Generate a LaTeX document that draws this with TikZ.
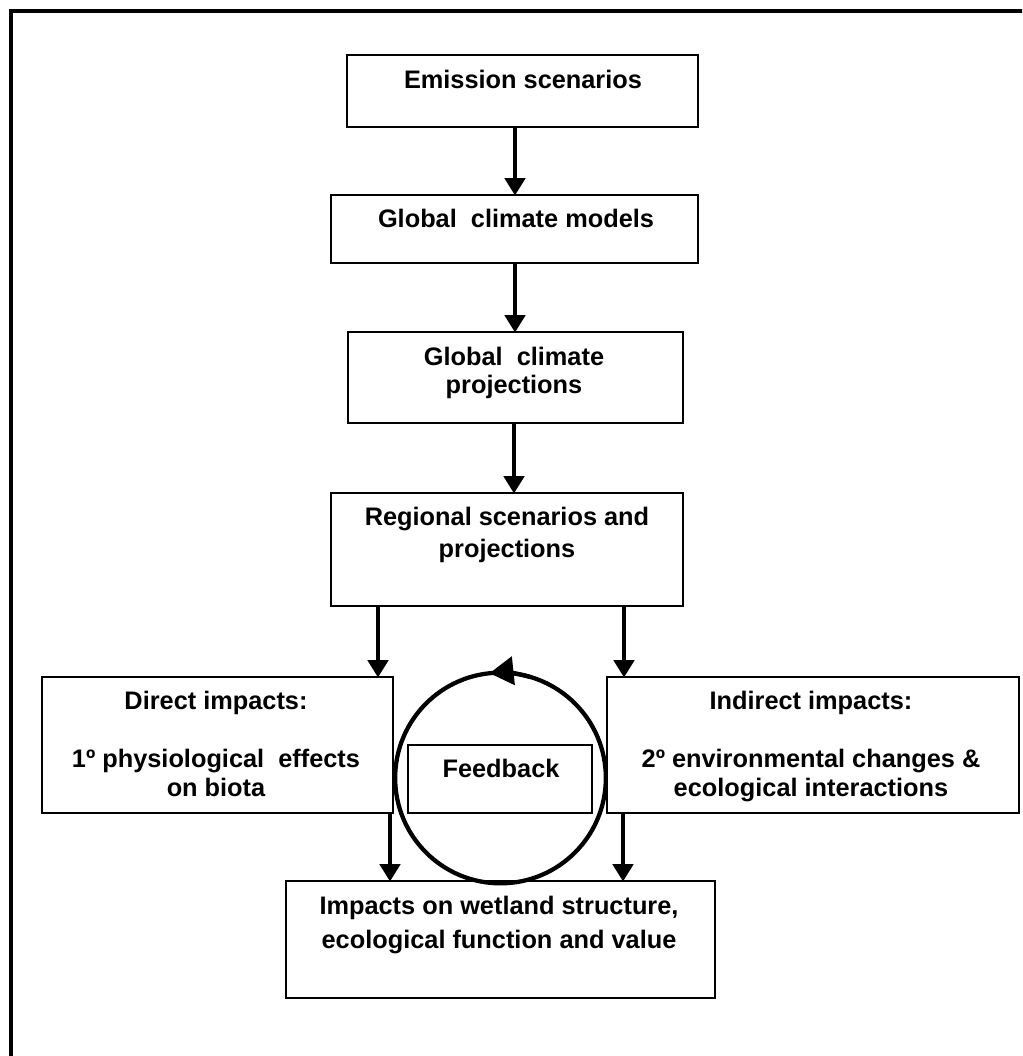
\documentclass[tikz,border=0pt]{standalone}
\usepackage{fontspec}
\setmainfont{Liberation Sans}
\usetikzlibrary{arrows.meta,fit}
\begin{document}
\begin{tikzpicture}[x=0.75pt,y=-0.75pt,
  box/.style={draw, line width=1.2pt, inner sep=0pt, fit={#1}},
  txt/.style={font=\bfseries\fontsize{19}{24}\selectfont, align=center, anchor=base, inner sep=0pt},
  arr/.style={line width=3.6pt, -{Triangle[length=13pt,width=15pt]}, shorten >=-1pt},
  loopline/.style={line width=3.2pt}]
\useasboundingbox (0,0) rectangle (1022,1056);
% page frame, open towards the right and bottom edges
\begin{scope}
  \clip (0,0) rectangle (1022,1056);
  \draw[line width=3.4pt] (11,1100) -- (11,11) -- (1100,11);
\end{scope}

% boxes
\node[box={(347,55) (698,127)}] (emis) {};
\node[box={(331,195) (698,263)}] (gcm) {};
\node[box={(348,332) (683,423)}] (gcp) {};
\node[box={(331,493) (683,606)}] (reg) {};
\node[box={(42,677) (393,813)}] (direct) {};
\node[box={(607,677) (1019,813)}] (indirect) {};
\node[box={(286,881) (715,998)}] (wetland) {};

% feedback loop
\node[draw, circle, loopline, minimum size=158pt, inner sep=0pt] (loop) at (500.5,778) {};
\draw[loopline, -{Triangle[length=18pt,width=21pt]}]
  ([shift={(74:79pt)}]loop.center) arc[start angle=74, end angle=96, radius=79pt];
\node[box={(408,745) (592,813)}, fill=white] (fb) {};

% texts (anchor=base sits on the last line)
\node[txt] at (523,89) {Emission scenarios};
\node[txt] at (516,227) {Global\ \ climate models};
\node[txt] at (514,393) {Global\ \ climate\\[-3pt] projections};
\node[txt] at (507,557) {Regional scenarios and\\ projections};
\node[txt] at (216,796) {Direct impacts:\\[19.5pt] 1º physiological\ \ effects\\[-2.25pt] on biota};
\node[txt] at (811,796) {Indirect impacts:\\[19.5pt] 2º environmental changes \&\\[-2.25pt] ecological interactions};
\node[txt] at (501,777) {Feedback};
\node[txt] at (499,948) {Impacts on wetland structure,\\[1.5pt] ecological function and value};

% connectors
\draw[arr] (515,0 |- emis.south) -- (515,0 |- gcm.north);
\draw[arr] (515,0 |- gcm.south) -- (515,0 |- gcp.north);
\draw[arr] (514,0 |- gcp.south) -- (514,0 |- reg.north);
\draw[arr] (378,0 |- reg.south) -- (378,0 |- direct.north);
\draw[arr] (624,0 |- reg.south) -- (624,0 |- indirect.north);
\draw[arr] (390,0 |- direct.south) -- (390,0 |- wetland.north);
\draw[arr] (623,0 |- indirect.south) -- (623,0 |- wetland.north);
\end{tikzpicture}
\end{document}
